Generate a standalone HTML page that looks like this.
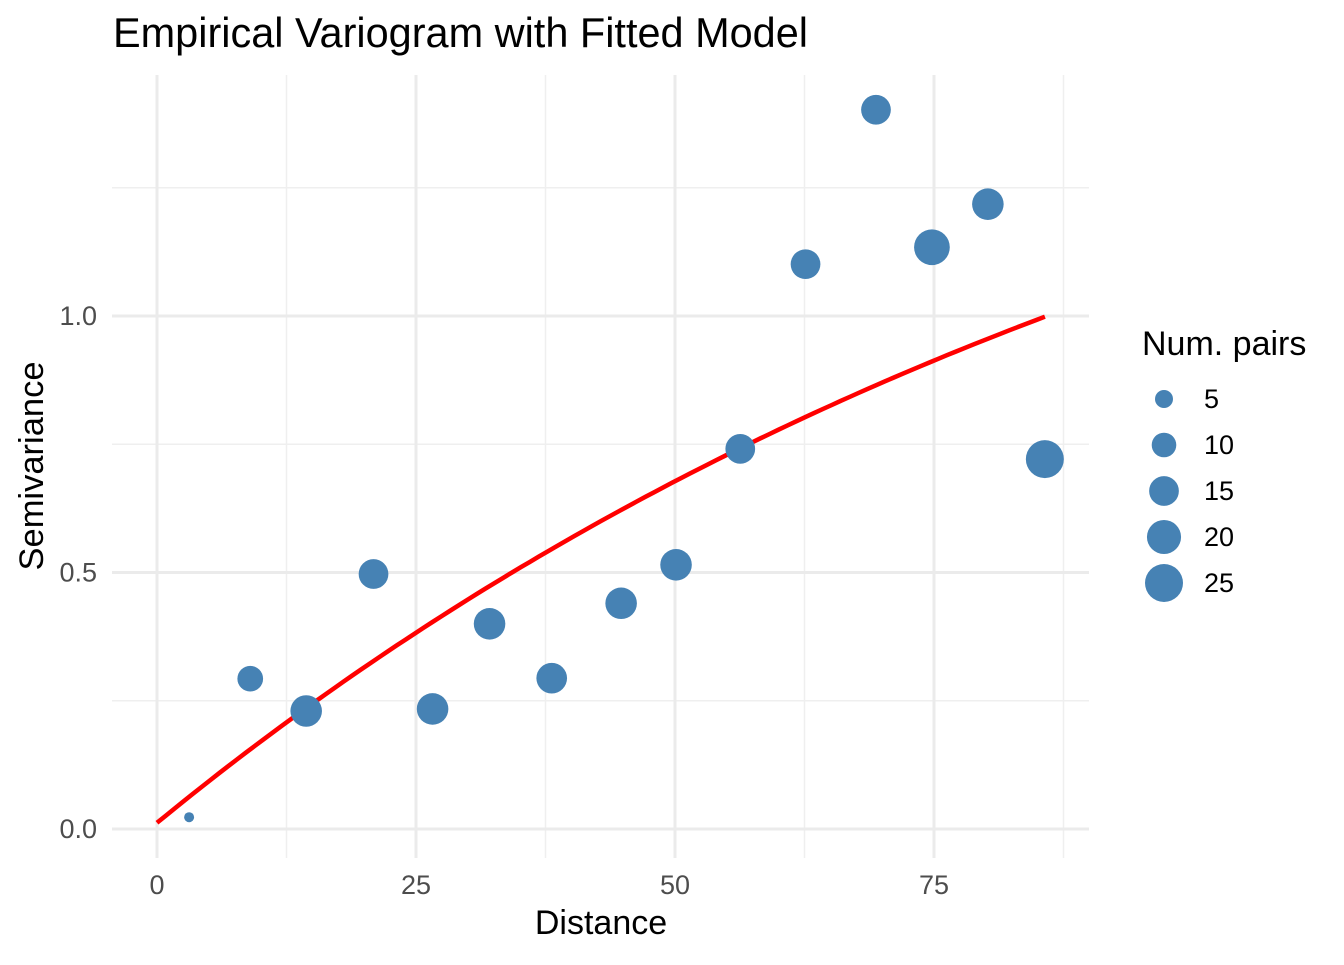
<!DOCTYPE html>
<html><head><meta charset="utf-8"><style>
body{margin:0;background:#fff;}
svg text{font-family:"Liberation Sans",sans-serif;}
</style></head><body>
<svg id="chart" width="1344" height="960" xmlns="http://www.w3.org/2000/svg">
<g id="grid"></g>
<g id="curve"></g>
<g id="points"></g>
<g id="axes"></g>
<text x="113" y="47" font-size="41.5" textLength="695" lengthAdjust="spacingAndGlyphs" fill="#000">Empirical Variogram with Fitted Model</text>
<text x="601" y="934" font-size="34" text-anchor="middle" fill="#000">Distance</text>
<text transform="translate(43,466) rotate(-90)" font-size="34.5" text-anchor="middle" fill="#000">Semivariance</text>
<g id="legend">
<text x="1142" y="355" font-size="34" fill="#000">Num. pairs</text>
</g>
</svg>
<script>
const distances=[3.1,9.0,14.4,20.9,26.6,32.1,38.1,44.8,50.1,56.3,62.6,69.4,74.8,80.2,85.7];
const gammas=[0.023,0.293,0.230,0.497,0.234,0.400,0.294,0.440,0.515,0.741,1.101,1.402,1.134,1.218,0.721];
const npairs=[1,11,17,15,17,17,16,17,17,15,15,15,22,17,25];
const xTicks=[0,25,50,75];
const xMinor=[12.5,37.5,62.5,87.5];
const yTicks=[0,0.5,1.0];
const yTickLabels=["0.0","0.5","1.0"];
const yMinor=[0.25,0.75,1.25];
const legendValues=[5,10,15,20,25];
const modelNugget=[0.012];
const modelSill=[1.823];
const modelRange=[110];
const modelMaxDist=[85.7];

const NS="http://www.w3.org/2000/svg";
const X=v=>157+v*10.36;
const Y=v=>829-v*513;
const R=n=>Math.sqrt(11+14*n);
function mk(tag,attrs,parent){const e=document.createElementNS(NS,tag);for(const k in attrs)e.setAttribute(k,attrs[k]);parent.appendChild(e);return e;}
const grid=document.getElementById('grid');
const L=112,Rt=1089,T=75,B=858;
xMinor.forEach(v=>{const e=mk('line',{x1:X(v),x2:X(v),y1:T,y2:B,stroke:'#EFEFEF','stroke-width':1.5},grid);

});
yMinor.forEach(v=>{const e=mk('line',{x1:L,x2:Rt,y1:Y(v),y2:Y(v),stroke:'#EFEFEF','stroke-width':1.5},grid);

});
xTicks.forEach(v=>{const e=mk('line',{x1:X(v),x2:X(v),y1:T,y2:B,stroke:'#EBEBEB','stroke-width':3},grid);

});
yTicks.forEach(v=>{const e=mk('line',{x1:L,x2:Rt,y1:Y(v),y2:Y(v),stroke:'#EBEBEB','stroke-width':3},grid);

});
const axes=document.getElementById('axes');
xTicks.forEach(v=>{const t=mk('text',{x:X(v),y:894,'font-size':27,'text-anchor':'middle',fill:'#4D4D4D'},axes);t.textContent=String(v);

});
yTicks.forEach((v,i)=>{const t=mk('text',{x:97,y:Y(v)+9,'font-size':27,'text-anchor':'end',fill:'#4D4D4D'},axes);t.textContent=yTickLabels[i];

});
let d='';
for(let i=0;i<=100;i++){const h=modelMaxDist[0]*i/100;const g=modelNugget[0]+modelSill[0]*(1-Math.exp(-h/modelRange[0]));d+=(i?'L':'M')+X(h).toFixed(1)+','+Y(g).toFixed(1);}
const c=mk('path',{d:d,fill:'none',stroke:'#FF0000','stroke-width':4.5},document.getElementById('curve'));


const pts=document.getElementById('points');
distances.forEach((v,i)=>{const e=mk('circle',{cx:X(v),cy:Y(gammas[i]),r:R(npairs[i]),fill:'#4682B4'},pts);

});
const lg=document.getElementById('legend');
legendValues.forEach((n,i)=>{const y=399+i*46;
const e=mk('circle',{cx:1164,cy:y,r:R(n),fill:'#4682B4'},lg);


const t=mk('text',{x:1204,y:y+9,'font-size':27,fill:'#000'},lg);t.textContent=String(n);

});
</script>
</body></html>
